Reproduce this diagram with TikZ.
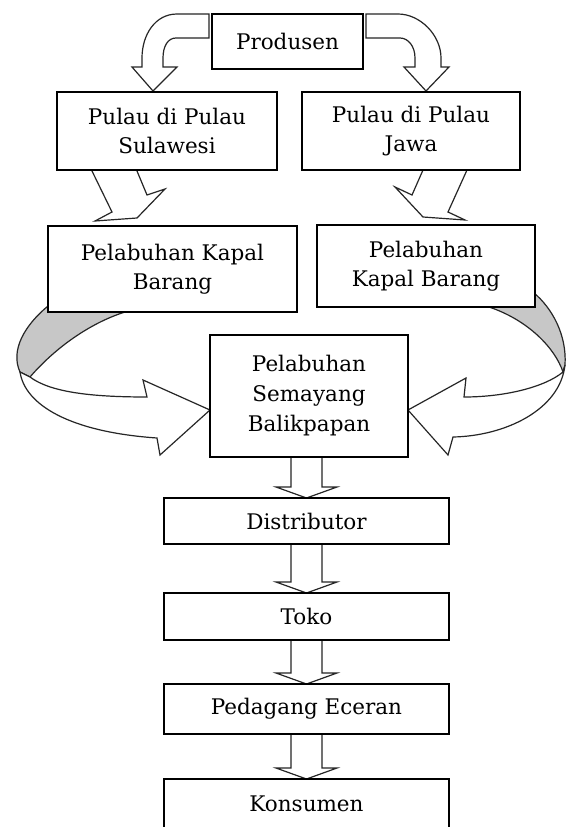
\documentclass[tikz,border=0pt]{standalone}
\usepackage{fontspec}
\setmainfont{DejaVu Serif}
\usetikzlibrary{calc}
\pgfdeclarelayer{background}
\pgfsetlayers{background,main}
\newcommand\vblock[2]{%
  \draw[barrow] ($(#1.south -| #2.north)+(-15.5,0)$) -- ($(#2.north)+(-15.5,-11)$) -- ($(#2.north)+(-30.5,-11)$) -- (#2.north) -- ($(#2.north)+(30.5,-11)$) -- ($(#2.north)+(15.5,-11)$) -- ($(#1.south -| #2.north)+(15.5,0)$);}
\begin{document}
\begin{tikzpicture}[x=1pt,y=-1pt,
  box/.style={draw=black, line width=1.3pt, fill=white, inner sep=0pt, outer sep=0pt, align=center, font=\fontsize{21.5}{29}\selectfont},
  barrow/.style={draw=black!85, line width=1.2pt, fill=white, line join=miter},
  band/.style={draw=black!85, line width=1.2pt, fill=black!22}]
\useasboundingbox (0,0) rectangle (566,827);
% boxes
\node[box, minimum width=151, minimum height=55] (prod) at (287.5,41.5) {Produsen};
\node[box, minimum width=220, minimum height=78] (sul) at (167,131) {Pulau di Pulau\\Sulawesi};
\node[box, minimum width=218, minimum height=78] (jawa) at (411,131) {Pulau di Pulau\\Jawa};
\node[box, minimum width=249, minimum height=86] (pkb1) at (172.5,269) {Pelabuhan Kapal\\Barang};
\node[box, minimum width=218, minimum height=82] (pkb2) at (426,266) {Pelabuhan\\Kapal Barang};
\node[box, minimum width=198, minimum height=122, font=\fontsize{21.5}{30}\selectfont] (sem) at (309,396) {Pelabuhan\\Semayang\\Balikpapan};
\node[box, minimum width=285, minimum height=46] (dist) at (306.5,521) {Distributor};
\node[box, minimum width=285, minimum height=47] (toko) at (306.5,616.5) {Toko};
\node[box, minimum width=285, minimum height=50] (ped) at (306.5,709) {Pedagang Eceran};
\node[box, minimum width=285, minimum height=50, text depth=0pt] (kons) at (306.5,804) {Konsumen};
\begin{pgfonlayer}{background}
\fill[white] (0,0) rectangle (566,827);
% top bent arrows
\draw[barrow] (209,14) -- (177,14) .. controls (155,14) and (142,35) .. (142,58) -- (142,67) -- (132,67) -- (153,91) -- (177,67) -- (163,67) -- (163,58) .. controls (163,46) and (168,38) .. (176,38) -- (209,38) -- cycle;
\draw[barrow] (366,14) -- (398,14) .. controls (420,14) and (441,35) .. (441,58) -- (441,67) -- (449,67) -- (426,91) -- (404,67) -- (415,67) -- (415,58) .. controls (415,46) and (408,38) .. (400,38) -- (366,38) -- cycle;
% slanted arrows
\draw[barrow] (92,171) -- (112,212) -- (95,221) -- (137,218) -- (165,189) -- (147,195) -- (137,171);
\draw[barrow] (423,170) -- (412,195) -- (395,187) -- (423,217) -- (465,220) -- (448,212) -- (467,170);
% curved arrows left
\draw[band] (48,306) .. controls (25,325) and (10,350) .. (20,372) -- (30,377) .. controls (55,348) and (90,323) .. (125,312) -- (48,312) -- cycle;
\draw[barrow] (20,372) .. controls (25,405) and (70,432) .. (157,438) -- (160,455) -- (210,410) -- (143,380) -- (147,397) .. controls (90,397) and (50,392) .. (30,377) -- cycle;
% curved arrows right
\draw[band] (489,307) -- (534,307) -- (534,293) .. controls (552,308) and (567,335) .. (565,365) -- (563,372) .. controls (555,348) and (528,320) .. (489,307) -- cycle;
\draw[barrow] (563,372) .. controls (545,387) and (505,397) .. (464,397) -- (466,378) -- (408,410) -- (448,455) -- (453,437) .. controls (505,436) and (560,410) .. (565,365) -- cycle;
% vertical block arrows
\vblock{sem}{dist}
\vblock{dist}{toko}
\vblock{toko}{ped}
\vblock{ped}{kons}
\end{pgfonlayer}
\end{tikzpicture}
\end{document}
